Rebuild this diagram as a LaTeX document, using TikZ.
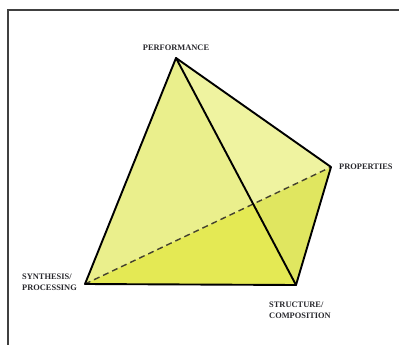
\documentclass[tikz,border=0pt]{standalone}
\usepackage{fontspec}
\setmainfont{Liberation Serif}
\usepackage{tikz}
\definecolor{frontup}{RGB}{234,239,140}
\definecolor{sideup}{RGB}{239,243,160}
\definecolor{frontlo}{RGB}{228,233,84}
\definecolor{sidelo}{RGB}{224,230,96}
\definecolor{lbl}{RGB}{40,40,45}

\begin{document}
\begin{tikzpicture}[
  x=1pt,y=-1pt,
  edge/.style={line width=1.9pt,line join=round,line cap=round},
  hidden/.style={line width=1.4pt,black!60!olive!80!black,dash pattern=on 6pt off 4pt},
  vl/.style={font=\fontsize{8.4}{10.8}\selectfont\bfseries,text=lbl,inner sep=1pt,align=left}
]
\useasboundingbox (0,0) rectangle (399,345);
% frame
\draw[black!75,line width=2pt] (8,345) -- (8,10.5) -- (399,10.5);
% corners of the tetrahedron
\coordinate (perf)  at (176,58);
\coordinate (prop)  at (331,167);
\coordinate (synth) at (85,284);
\coordinate (struc) at (296,285);
\coordinate (cross) at (intersection of perf--struc and synth--prop);
% faces, split by the hidden edge
\fill[frontup] (perf) -- (synth) -- (cross) -- cycle;
\fill[frontlo] (synth) -- (struc) -- (cross) -- cycle;
\fill[sideup]  (perf) -- (cross) -- (prop) -- cycle;
\fill[sidelo]  (cross) -- (struc) -- (prop) -- cycle;
% hidden edge
\draw[hidden] (synth) -- (prop);
% visible edges
\draw[edge] (perf) -- (synth) -- (struc) -- (prop) -- cycle;
\draw[edge] (perf) -- (struc);
% labels
\node[vl,anchor=south]      (lperf)  at (176,52)  {PERFORMANCE};
\node[vl,anchor=west]       (lprop)  at (338,167) {PROPERTIES};
\node[vl,anchor=east]       (lsynth) at (78,282)  {SYNTHESIS/\\PROCESSING};
\node[vl,anchor=north west] (lstruc) at (268,301) {STRUCTURE/\\COMPOSITION};
\end{tikzpicture}
\end{document}
